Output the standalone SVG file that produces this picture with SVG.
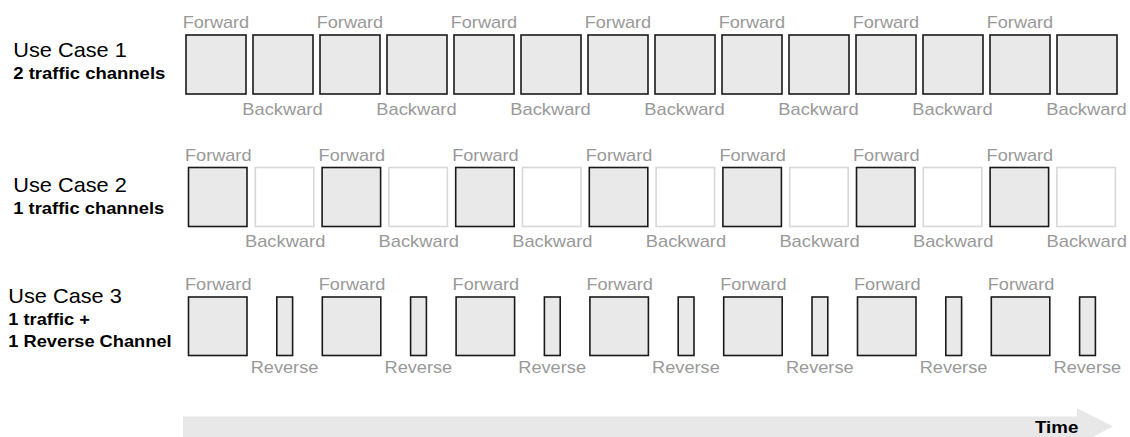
<svg xmlns="http://www.w3.org/2000/svg" width="1130" height="437" viewBox="0 0 1130 437">
<style>
.on{fill:#e9e9e9;stroke:#1a1a1a;stroke-width:1.6}
.off{fill:#ffffff;stroke:#d8d8d8;stroke-width:1.6}
.lbl{font-family:"Liberation Sans",Arial,sans-serif;font-size:17px;fill:#999999}
.uc{font-family:"Liberation Sans",Arial,sans-serif;font-size:21px;fill:#000}
.sub{font-family:"Liberation Sans",Arial,sans-serif;font-size:16.5px;font-weight:bold;fill:#000}
</style>
<defs>
<rect id="b1" class="on" width="60" height="59"/>
<rect id="b2on" class="on" width="58.5" height="59"/>
<rect id="b2off" class="off" width="58.5" height="59"/>
<rect id="b3" class="on" width="58.5" height="58.5"/>
<rect id="b3n" class="on" width="15.8" height="58.5"/>
</defs>

<g id="timeline">
<polygon points="183,416.5 1077,416.5 1077,408 1113,426.5 1077,445 1077,437 183,437" fill="#e8e8e8"/>
<text x="1035" y="432.5" class="sub" textLength="43.3" lengthAdjust="spacingAndGlyphs">Time</text>
</g>

<g id="usecase1">
<text x="13.3" y="56.7" class="uc" textLength="113.5" lengthAdjust="spacingAndGlyphs">Use Case 1</text>
<text x="13.3" y="79.3" class="sub" textLength="152" lengthAdjust="spacingAndGlyphs">2 traffic channels</text>
<use href="#b1" x="186" y="35"/><use href="#b1" x="253" y="35"/>
<use href="#b1" x="320" y="35"/><use href="#b1" x="387" y="35"/>
<use href="#b1" x="454" y="35"/><use href="#b1" x="521" y="35"/>
<use href="#b1" x="588" y="35"/><use href="#b1" x="655" y="35"/>
<use href="#b1" x="722" y="35"/><use href="#b1" x="789" y="35"/>
<use href="#b1" x="856" y="35"/><use href="#b1" x="923" y="35"/>
<use href="#b1" x="990" y="35"/><use href="#b1" x="1057" y="35"/>
<text class="lbl" y="27.7" x="182.7" textLength="66.5" lengthAdjust="spacingAndGlyphs">Forward</text>
<text class="lbl" y="27.7" x="316.7" textLength="66.5" lengthAdjust="spacingAndGlyphs">Forward</text>
<text class="lbl" y="27.7" x="450.7" textLength="66.5" lengthAdjust="spacingAndGlyphs">Forward</text>
<text class="lbl" y="27.7" x="584.7" textLength="66.5" lengthAdjust="spacingAndGlyphs">Forward</text>
<text class="lbl" y="27.7" x="718.7" textLength="66.5" lengthAdjust="spacingAndGlyphs">Forward</text>
<text class="lbl" y="27.7" x="852.7" textLength="66.5" lengthAdjust="spacingAndGlyphs">Forward</text>
<text class="lbl" y="27.7" x="986.7" textLength="66.5" lengthAdjust="spacingAndGlyphs">Forward</text>
<text class="lbl" y="114.5" x="242.3" textLength="80.3" lengthAdjust="spacingAndGlyphs">Backward</text>
<text class="lbl" y="114.5" x="376.3" textLength="80.3" lengthAdjust="spacingAndGlyphs">Backward</text>
<text class="lbl" y="114.5" x="510.3" textLength="80.3" lengthAdjust="spacingAndGlyphs">Backward</text>
<text class="lbl" y="114.5" x="644.3" textLength="80.3" lengthAdjust="spacingAndGlyphs">Backward</text>
<text class="lbl" y="114.5" x="778.3" textLength="80.3" lengthAdjust="spacingAndGlyphs">Backward</text>
<text class="lbl" y="114.5" x="912.3" textLength="80.3" lengthAdjust="spacingAndGlyphs">Backward</text>
<text class="lbl" y="114.5" x="1046.3" textLength="80.3" lengthAdjust="spacingAndGlyphs">Backward</text>
</g>

<g id="usecase2">
<text x="13.3" y="191.7" class="uc" textLength="113.5" lengthAdjust="spacingAndGlyphs">Use Case 2</text>
<text x="13.3" y="214" class="sub" textLength="151" lengthAdjust="spacingAndGlyphs">1 traffic channels</text>
<use href="#b2on" x="188.5" y="167.5"/><use href="#b2off" x="255.3" y="167.5"/>
<use href="#b2on" x="322.1" y="167.5"/><use href="#b2off" x="388.9" y="167.5"/>
<use href="#b2on" x="455.7" y="167.5"/><use href="#b2off" x="522.5" y="167.5"/>
<use href="#b2on" x="589.3" y="167.5"/><use href="#b2off" x="656.1" y="167.5"/>
<use href="#b2on" x="722.9" y="167.5"/><use href="#b2off" x="789.7" y="167.5"/>
<use href="#b2on" x="856.5" y="167.5"/><use href="#b2off" x="923.3" y="167.5"/>
<use href="#b2on" x="990.1" y="167.5"/><use href="#b2off" x="1056.9" y="167.5"/>
<text class="lbl" y="160.7" x="185" textLength="66.5" lengthAdjust="spacingAndGlyphs">Forward</text>
<text class="lbl" y="160.7" x="318.6" textLength="66.5" lengthAdjust="spacingAndGlyphs">Forward</text>
<text class="lbl" y="160.7" x="452.2" textLength="66.5" lengthAdjust="spacingAndGlyphs">Forward</text>
<text class="lbl" y="160.7" x="585.8" textLength="66.5" lengthAdjust="spacingAndGlyphs">Forward</text>
<text class="lbl" y="160.7" x="719.4" textLength="66.5" lengthAdjust="spacingAndGlyphs">Forward</text>
<text class="lbl" y="160.7" x="853" textLength="66.5" lengthAdjust="spacingAndGlyphs">Forward</text>
<text class="lbl" y="160.7" x="986.6" textLength="66.5" lengthAdjust="spacingAndGlyphs">Forward</text>
<text class="lbl" y="247.3" x="245" textLength="80.3" lengthAdjust="spacingAndGlyphs">Backward</text>
<text class="lbl" y="247.3" x="378.6" textLength="80.3" lengthAdjust="spacingAndGlyphs">Backward</text>
<text class="lbl" y="247.3" x="512.2" textLength="80.3" lengthAdjust="spacingAndGlyphs">Backward</text>
<text class="lbl" y="247.3" x="645.8" textLength="80.3" lengthAdjust="spacingAndGlyphs">Backward</text>
<text class="lbl" y="247.3" x="779.4" textLength="80.3" lengthAdjust="spacingAndGlyphs">Backward</text>
<text class="lbl" y="247.3" x="913" textLength="80.3" lengthAdjust="spacingAndGlyphs">Backward</text>
<text class="lbl" y="247.3" x="1046.6" textLength="80.3" lengthAdjust="spacingAndGlyphs">Backward</text>
</g>

<g id="usecase3">
<text x="8.3" y="303.3" class="uc" textLength="113.5" lengthAdjust="spacingAndGlyphs">Use Case 3</text>
<text x="8.3" y="325" class="sub" textLength="81.7" lengthAdjust="spacingAndGlyphs">1 traffic +</text>
<text x="8.3" y="347.3" class="sub" textLength="163.3" lengthAdjust="spacingAndGlyphs">1 Reverse Channel</text>
<use href="#b3" x="188.5" y="297"/><use href="#b3n" x="276.8" y="297"/>
<use href="#b3" x="322.3" y="297"/><use href="#b3n" x="410.6" y="297"/>
<use href="#b3" x="456.1" y="297"/><use href="#b3n" x="544.4" y="297"/>
<use href="#b3" x="589.9" y="297"/><use href="#b3n" x="678.2" y="297"/>
<use href="#b3" x="723.7" y="297"/><use href="#b3n" x="812" y="297"/>
<use href="#b3" x="857.5" y="297"/><use href="#b3n" x="945.8" y="297"/>
<use href="#b3" x="991.3" y="297"/><use href="#b3n" x="1079.6" y="297"/>
<text class="lbl" y="290" x="185" textLength="66.5" lengthAdjust="spacingAndGlyphs">Forward</text>
<text class="lbl" y="290" x="318.8" textLength="66.5" lengthAdjust="spacingAndGlyphs">Forward</text>
<text class="lbl" y="290" x="452.6" textLength="66.5" lengthAdjust="spacingAndGlyphs">Forward</text>
<text class="lbl" y="290" x="586.4" textLength="66.5" lengthAdjust="spacingAndGlyphs">Forward</text>
<text class="lbl" y="290" x="720.2" textLength="66.5" lengthAdjust="spacingAndGlyphs">Forward</text>
<text class="lbl" y="290" x="854" textLength="66.5" lengthAdjust="spacingAndGlyphs">Forward</text>
<text class="lbl" y="290" x="987.8" textLength="66.5" lengthAdjust="spacingAndGlyphs">Forward</text>
<text class="lbl" y="373.3" x="250.7" textLength="67.7" lengthAdjust="spacingAndGlyphs">Reverse</text>
<text class="lbl" y="373.3" x="384.5" textLength="67.7" lengthAdjust="spacingAndGlyphs">Reverse</text>
<text class="lbl" y="373.3" x="518.3" textLength="67.7" lengthAdjust="spacingAndGlyphs">Reverse</text>
<text class="lbl" y="373.3" x="652.1" textLength="67.7" lengthAdjust="spacingAndGlyphs">Reverse</text>
<text class="lbl" y="373.3" x="785.9" textLength="67.7" lengthAdjust="spacingAndGlyphs">Reverse</text>
<text class="lbl" y="373.3" x="919.7" textLength="67.7" lengthAdjust="spacingAndGlyphs">Reverse</text>
<text class="lbl" y="373.3" x="1053.5" textLength="67.7" lengthAdjust="spacingAndGlyphs">Reverse</text>
</g>
</svg>
